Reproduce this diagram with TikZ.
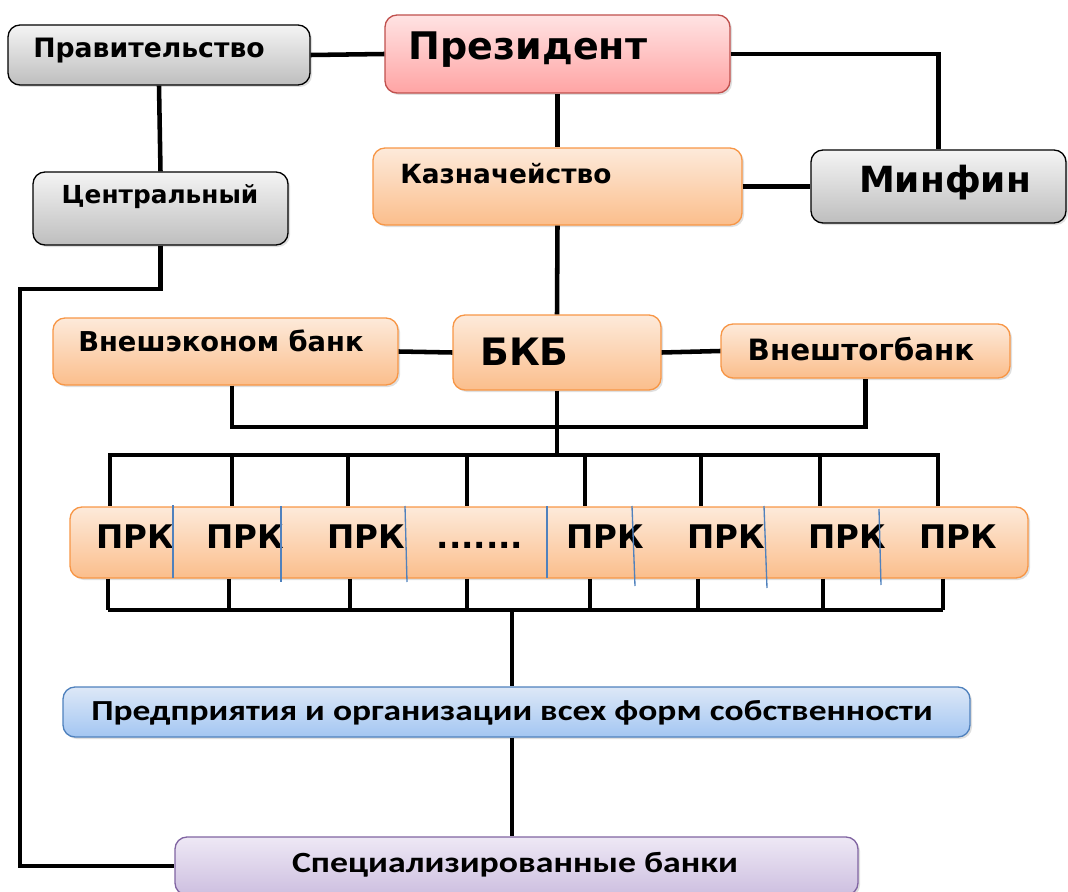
\documentclass[tikz,border=0pt]{standalone}
\usepackage{fontspec}
\setmainfont{DejaVu Sans}
\newfontfamily\calfont[FakeStretch=1.22]{Carlito}
\usetikzlibrary{fit,shadows}

\definecolor{pinkTop}{HTML}{FFE3E3}
\definecolor{pinkBot}{HTML}{FFA4A4}
\definecolor{pinkLine}{HTML}{C0504D}
\definecolor{orTop}{HTML}{FDEADA}
\definecolor{orBot}{HTML}{FBBE8C}
\definecolor{orLine}{HTML}{F79646}
\definecolor{grTop}{HTML}{F4F4F4}
\definecolor{grBot}{HTML}{BEBEBE}
\definecolor{blTop}{HTML}{DDE8F7}
\definecolor{blBot}{HTML}{A3C6F2}
\definecolor{blLine}{HTML}{4F81BD}
\definecolor{vlTop}{HTML}{EEE8F5}
\definecolor{vlBot}{HTML}{CDBFE0}
\definecolor{vlLine}{HTML}{8064A2}

\newcommand{\dotsrow}{.......}
\newcommand{\fs}[1]{\bfseries\fontsize{#1}{#1}\selectfont}

\tikzset{
  box/.style={rounded corners=9pt, inner sep=0pt, line width=1pt,
    drop shadow={opacity=0.25, shadow xshift=1.5pt, shadow yshift=-1.5pt}},
  pinkbox/.style={box, draw=pinkLine, top color=pinkTop, bottom color=pinkBot},
  orbox/.style={box, draw=orLine, top color=orTop, bottom color=orBot},
  grbox/.style={box, draw=black, top color=grTop, bottom color=grBot},
  blbox/.style={box, draw=blLine, top color=blTop, bottom color=blBot},
  vlbox/.style={box, draw=vlLine, top color=vlTop, bottom color=vlBot},
  conn/.style={line width=3.4pt},
  divider/.style={draw=blLine, line width=1pt},
  lbl/.style={inner sep=0pt, anchor=base},
}

\begin{document}
\begin{tikzpicture}[x=0.75pt,y=-0.75pt]
\useasboundingbox (0,0) rectangle (1068,892);

% top level
\node[grbox, fit={(8,25) (310,85)}] (prav) {};
\node[lbl, font=\fs{20}] (pravt) at (149,58) {Правительство};
\node[pinkbox, fit={(385,15) (730,93)}] (pres) {};
\node[lbl, font=\fs{28.5}] (prest) at (528,60) {Президент};
\node[grbox, fit={(33,172) (288,245)}] (centr) {};
\node[lbl, font=\fs{18.6}] (centrt) at (160,203) {Центральный};
\node[orbox, fit={(373,148) (742,225)}] (kazn) {};
\node[lbl, font=\fs{19.8}, anchor=base west] (kaznt) at (400,183) {Казначейство};
\node[grbox, fit={(811,150) (1066,223)}] (minf) {};
\node[lbl, font=\fs{27}] (minft) at (945,192) {Минфин};

% banks
\node[orbox, fit={(53,318) (398,385)}] (vnesh) {};
\node[lbl, font=\fs{20.5}, anchor=base west] (vnesht) at (78,351) {Внешэконом банк};
\node[orbox, fit={(453,315) (661,390)}] (bkb) {};
\node[lbl, font=\fs{28.3}, anchor=base west] (bkbt) at (480,365) {БКБ};
\node[orbox, fit={(721,324) (1010,378)}] (vtb) {};
\node[lbl, font=\fs{22}] (vtbt) at (861,360) {Внештогбанк};

% PRK row
\node[orbox, fit={(70,507) (1028,578)}] (prk) {};
\foreach \x/\t [count=\i] in {135/ПРК,245/ПРК,366/ПРК,480/\dotsrow,605/ПРК,726/ПРК,847/ПРК,958/ПРК}
  \node[lbl, font=\fs{24.4}] (prkt\i) at (\x,548) {\t};
\foreach \xa/\ya/\xb/\yb in {173/505/173/578,281/506/281/582,405/506/407/582,547/506/547/578,
    632/506/635/586,764/506/767/588,879/509/881/585}
  \draw[divider] (\xa,\ya) -- (\xb,\yb);

% lower boxes
\node[blbox, fit={(63,687) (970,737)}] (ent) {};
\node[lbl, font=\calfont\fs{21.8}] (entt) at (512,720) {Предприятия и организации всех форм собственности};
\node[vlbox, fit={(175,837) (858,895)}] (spec) {};
\node[lbl, font=\calfont\fs{22}] (spect) at (515,872) {Специализированные банки};

% named points of the lines
\coordinate (vl) at (232,427);
\coordinate (busA) at (557,455);
\coordinate (busB) at (512,610);
\coordinate (cl) at (20,289);

% connectors
\draw[conn] (prav.east) -- (pres.west);
\draw[conn] (pres.east) -| (minf.north);
\draw[conn] (pres.south) -- (kazn.north);
\draw[conn] (prav.south) -- (centr.north);
\draw[conn] (kazn.east) -- (minf.west);
\draw[conn] (kazn.south) -- (bkb.north);
\draw[conn] (vnesh.east) -- (bkb.west);
\draw[conn] (bkb.east) -- (vtb.west);
\draw[conn] (vnesh.south -| vl) -- (vl) -| (vtb.south);
\draw[conn] (bkb.south) -- (busA);
\draw[conn] (108,455) -- (940,455);
\foreach \x in {110,232,348,467,585,701,820,938}
  \draw[conn] (\x,455) -- (\x,0 |- prk.north);
\foreach \x in {108,229,350,467,590,698,823,943}
  \draw[conn] (\x,0 |- prk.south) -- (\x,610);
\draw[conn] (108,610) -- (943,610);
\draw[conn] (busB) -- (busB |- ent.north);
\draw[conn] (busB |- ent.south) -- (busB |- spec.north);
\draw[conn] (centr.south) |- (cl) |- (spec.west);
\end{tikzpicture}
\end{document}
